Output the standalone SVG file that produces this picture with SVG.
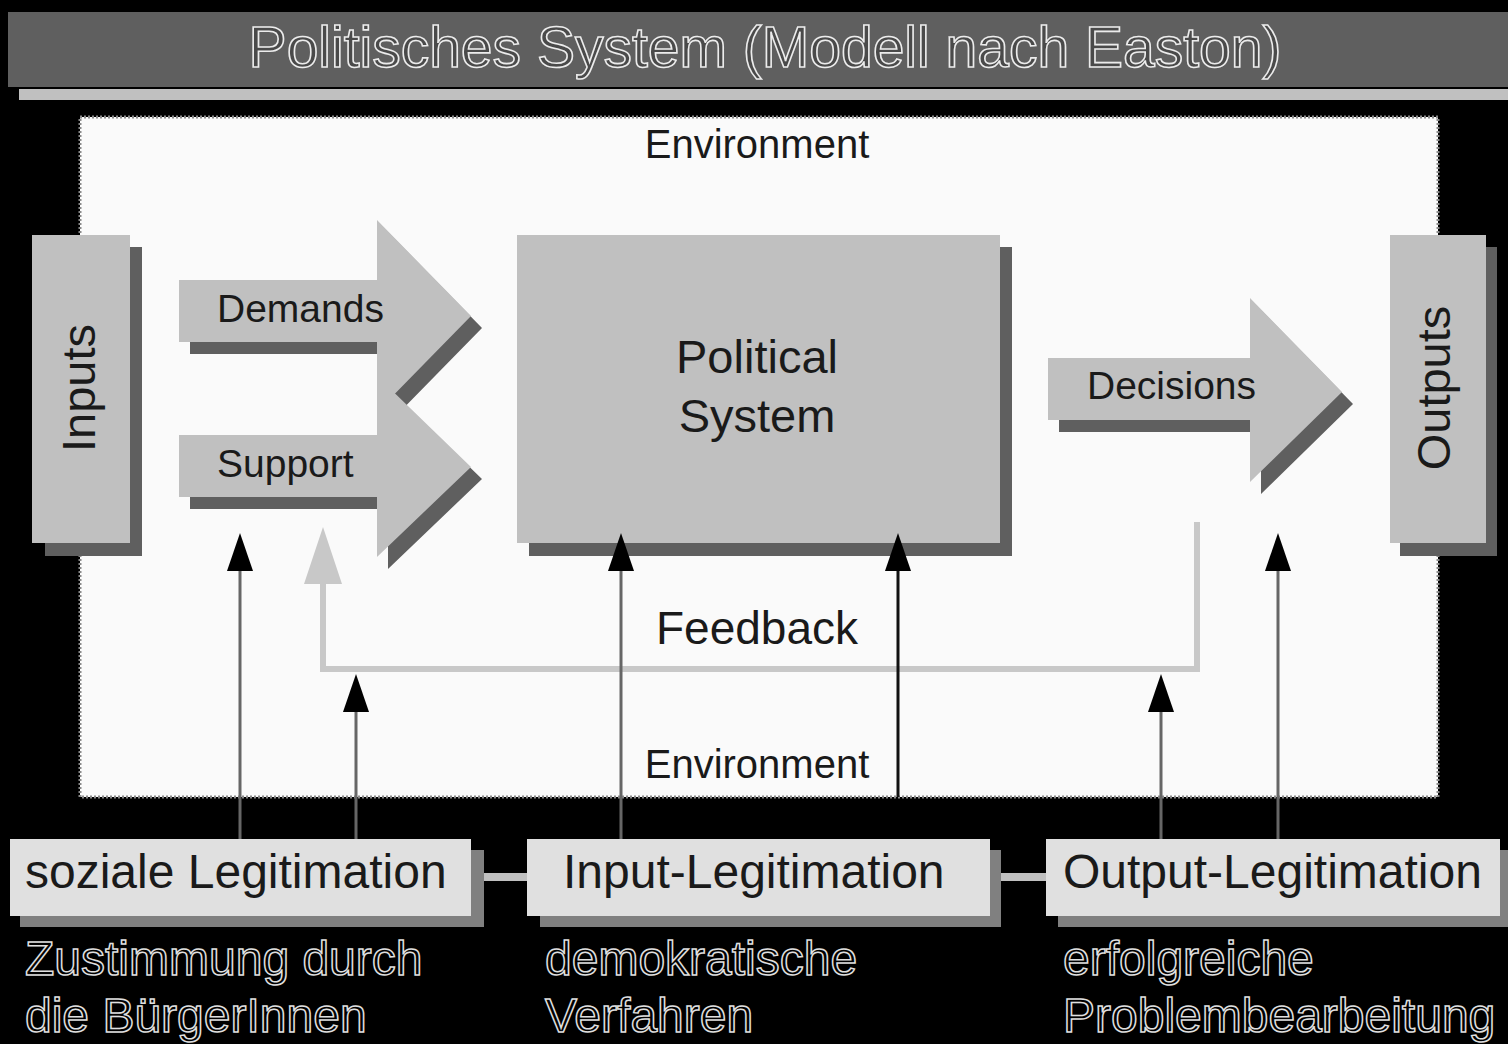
<svg xmlns="http://www.w3.org/2000/svg" width="1508" height="1044" viewBox="0 0 1508 1044">
<style>
text{font-family:"Liberation Sans",Arial,sans-serif;fill:#1a1a1a}
.sh{fill:#5f5f5f}
.lt{fill:#c0c0c0}
.bx{fill:#e0e0e0}
.bsh{fill:#808080}
.out{fill:#000;stroke:#e0e0e0;stroke-width:1.5}
.ln{stroke:#666;stroke-width:3;fill:none}
</style>
<defs>
<marker id="ah" markerUnits="userSpaceOnUse" markerWidth="38" markerHeight="26" viewBox="0 0 38 26" refX="1" refY="13" orient="auto"><path d="M0,0 L38,13 L0,26 z" fill="#000"/></marker>
<marker id="fh" markerUnits="userSpaceOnUse" markerWidth="57" markerHeight="38" viewBox="0 0 57 38" refX="2" refY="19" orient="auto"><path d="M0,0 L57,19 L0,38 z" fill="#c8c8c8"/></marker>
</defs>
<rect width="1508" height="1044" fill="#000"/>
<g id="title">
<rect x="8" y="12" width="1500" height="75" fill="#5f5f5f"/>
<rect x="19" y="89" width="1489" height="11" fill="#c0c0c0"/>
<text x="765" y="67" text-anchor="middle" font-size="57" style="fill:#4a4a4a;stroke:#ececec;stroke-width:1.6">Politisches System (Modell nach Easton)</text>
</g>
<g id="environment">
<rect x="80" y="117" width="1358" height="680" fill="#fafafa" stroke="#8a8a8a" stroke-width="3" stroke-dasharray="2 2"/>
<text x="757" y="158" text-anchor="middle" font-size="40">Environment</text>
<text x="757" y="778" text-anchor="middle" font-size="40">Environment</text>
</g>
<g id="inputs">
<rect class="sh" x="45" y="247" width="97" height="309"/>
<rect class="lt" x="32" y="235" width="98" height="308"/>
<text transform="translate(95,388) rotate(-90)" text-anchor="middle" font-size="47">Inputs</text>
</g>
<g id="demands">
<polygon class="sh" transform="translate(11,12)" points="179,280 377,280 377,220 471,316 377,412 377,342 179,342"/>
<polygon class="lt" points="179,280 377,280 377,220 471,316 377,412 377,342 179,342"/>
<text x="217" y="322" font-size="39">Demands</text>
</g>
<g id="support">
<polygon class="sh" transform="translate(11,12)" points="179,435 377,435 377,376 471,467 377,557 377,497 179,497"/>
<polygon class="lt" points="179,435 377,435 377,376 471,467 377,557 377,497 179,497"/>
<text x="217" y="477" font-size="39">Support</text>
</g>
<g id="political-system">
<rect class="sh" x="529" y="247" width="483" height="309"/>
<rect class="lt" x="517" y="235" width="483" height="308"/>
<text x="757" y="373" text-anchor="middle" font-size="47">Political</text>
<text x="757" y="432" text-anchor="middle" font-size="47">System</text>
</g>
<g id="decisions">
<polygon class="sh" transform="translate(11,12)" points="1048,358 1250,358 1250,298 1342,392 1250,482 1250,420 1048,420"/>
<polygon class="lt" points="1048,358 1250,358 1250,298 1342,392 1250,482 1250,420 1048,420"/>
<text x="1087" y="399" font-size="39">Decisions</text>
</g>
<g id="outputs">
<rect class="sh" x="1400" y="247" width="97" height="309"/>
<rect class="lt" x="1390" y="235" width="96" height="308"/>
<text transform="translate(1450,388) rotate(-90)" text-anchor="middle" font-size="47">Outputs</text>
</g>
<g id="feedback-label">
<text x="757" y="644" text-anchor="middle" font-size="46">Feedback</text>
</g>
<g id="connectors">
<path d="M1197,522 V669 H323 V582" fill="none" stroke="#c8c8c8" stroke-width="6" marker-end="url(#fh)"/>
<line class="ln" x1="240" y1="840" x2="240" y2="570" marker-end="url(#ah)"/>
<line class="ln" x1="356" y1="840" x2="356" y2="711" marker-end="url(#ah)"/>
<line class="ln" x1="621" y1="840" x2="621" y2="570" marker-end="url(#ah)"/>
<line class="ln" x1="898" y1="797" x2="898" y2="570" style="stroke:#111" marker-end="url(#ah)"/>
<line class="ln" x1="1161" y1="840" x2="1161" y2="711" marker-end="url(#ah)"/>
<line class="ln" x1="1278" y1="840" x2="1278" y2="570" marker-end="url(#ah)"/>
<line x1="482" y1="877" x2="528" y2="877" stroke="#c0c0c0" stroke-width="8"/>
<line x1="999" y1="877" x2="1047" y2="877" stroke="#c0c0c0" stroke-width="8"/>
</g>
<g id="soziale-legitimation">
<rect class="bsh" x="20" y="850" width="464" height="77"/>
<rect class="bx" x="10" y="839" width="461" height="77"/>
<text x="25" y="888" font-size="48">soziale Legitimation</text>
<text class="out" x="25" y="975" font-size="48">Zustimmung durch</text>
<text class="out" x="25" y="1032" font-size="48">die BürgerInnen</text>
</g>
<g id="input-legitimation">
<rect class="bsh" x="540" y="850" width="461" height="77"/>
<rect class="bx" x="527" y="839" width="463" height="77"/>
<text x="563" y="888" font-size="48">Input-Legitimation</text>
<text class="out" x="545" y="975" font-size="48">demokratische</text>
<text class="out" x="545" y="1032" font-size="48">Verfahren</text>
</g>
<g id="output-legitimation">
<rect class="bsh" x="1058" y="850" width="452" height="77"/>
<rect class="bx" x="1046" y="839" width="454" height="77"/>
<text x="1063" y="888" font-size="48">Output-Legitimation</text>
<text class="out" x="1063" y="975" font-size="48">erfolgreiche</text>
<text class="out" x="1063" y="1032" font-size="48">Problembearbeitung</text>
</g>
</svg>
